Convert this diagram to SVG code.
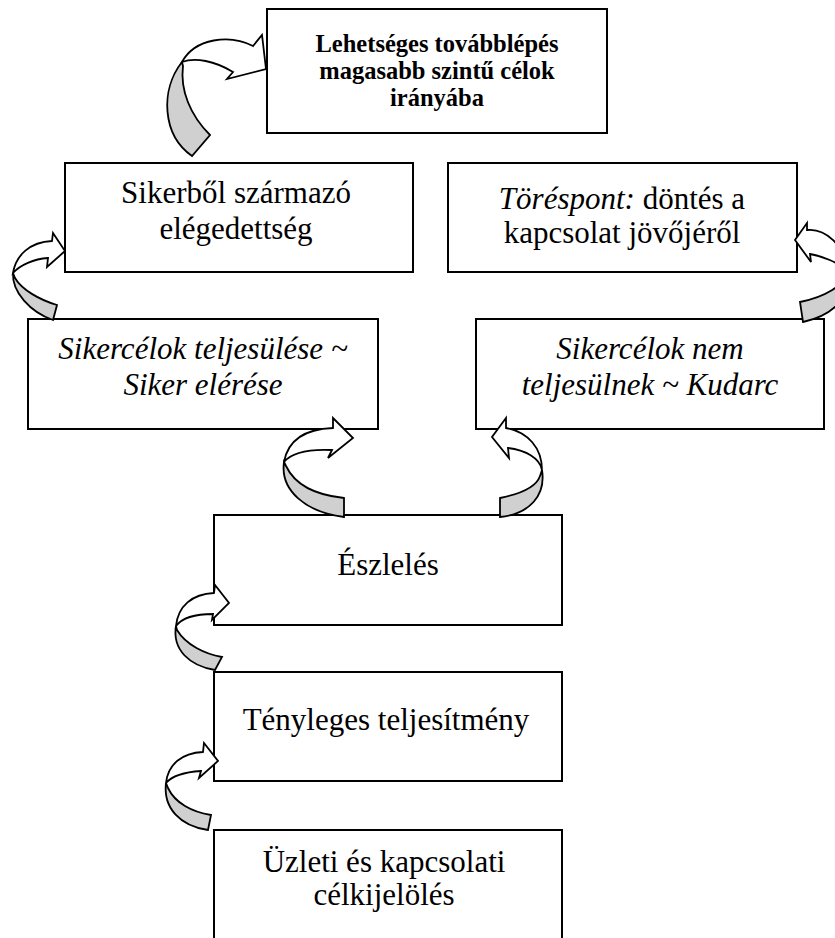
<svg xmlns="http://www.w3.org/2000/svg" width="835" height="938" viewBox="0 0 835 938">
<style>
.box{fill:#fff;stroke:#000;stroke-width:2}
.t{font-family:"Liberation Serif","Times New Roman",serif;font-size:31px;fill:#000;text-anchor:middle}
.i{font-style:italic}
.b{font-weight:bold;font-size:24.5px}
.front{fill:#fff;stroke:#000;stroke-width:1.8;stroke-linejoin:miter}
.back{fill:#d0d0d0;stroke:#000;stroke-width:1.8;stroke-linejoin:miter}
</style>
<rect width="835" height="938" fill="#fff"/>
<g id="n-top">
<rect class="box" x="267" y="9" width="340" height="124"/>
<text class="t b" x="437" y="52">Lehetséges továbblépés</text>
<text class="t b" x="437" y="79">magasabb szintű célok</text>
<text class="t b" x="437" y="106">irányába</text>
</g>
<g id="n-elegedettseg">
<rect class="box" x="65" y="163" width="348" height="109"/>
<text class="t" x="236" y="203">Sikerből származó</text>
<text class="t" x="236" y="239">elégedettség</text>
</g>
<g id="n-torespont">
<rect class="box" x="448" y="163" width="349" height="109"/>
<text class="t" x="622" y="209"><tspan class="i">Töréspont:</tspan> döntés a</text>
<text class="t" x="622" y="243">kapcsolat jövőjéről</text>
</g>
<g id="n-siker">
<rect class="box" x="28" y="319" width="350" height="110"/>
<text class="t i" x="203" y="359">Sikercélok teljesülése ~</text>
<text class="t i" x="203" y="395">Siker elérése</text>
</g>
<g id="n-kudarc">
<rect class="box" x="476" y="319" width="348" height="110"/>
<text class="t i" x="650" y="359">Sikercélok nem</text>
<text class="t i" x="650" y="395">teljesülnek ~ Kudarc</text>
</g>
<g id="n-eszleles">
<rect class="box" x="214" y="515" width="348" height="110"/>
<text class="t" x="388" y="575">Észlelés</text>
</g>
<g id="n-teljesitmeny">
<rect class="box" x="214" y="672" width="348" height="109"/>
<text class="t" x="386" y="730">Tényleges teljesítmény</text>
</g>
<g id="n-celkijeloles">
<rect class="box" x="214" y="830" width="348" height="130"/>
<text class="t" x="384" y="872">Üzleti és kapcsolati</text>
<text class="t" x="384" y="905">célkijelölés</text>
</g>
<g id="connectors">
<path class="back" d="M182,62 C160,90 162,135 192,156 L210,135 C190,115 180,90 183,66 Z"/>
<path class="front" d="M182,62 C195,38 230,34 253,46 L262,35 L266,69 L227,79 L233,72 C215,61 195,57 182,62 Z"/>
<path class="back" d="M13,273 C12,292 30,312 53,320 L57,305 C40,300 22,290 15,278 Z"/>
<path class="front" d="M13,273 C16,255 30,242 52,241 L53,233 L65,251 L47,267 L48,258 C34,259 20,265 13,273 Z"/>
<path class="back" d="M848,272 C852,295 835,315 803,322 L800,302 C825,297 845,285 848,272 Z"/>
<path class="front" d="M807,230 C825,228 845,245 848,272 C838,262 822,256 810,254 L811,262 L795,240 L807,223 Z"/>
<path class="back" d="M284,462 C280,490 305,512 344,517 L344,498 C315,495 295,485 286,466 Z"/>
<path class="front" d="M284,462 C288,440 305,429 333,428 L333,418 L353,438 L328,458 L332,450 C310,449 292,452 284,462 Z"/>
<path class="back" d="M542,470 C546,495 530,514 500,517 L500,498 C520,494 536,488 540,476 Z"/>
<path class="front" d="M542,470 C542,448 528,432 506,428 L506,418 L492,437 L509,458 L508,448 C525,450 540,458 542,470 Z"/>
<path class="back" d="M176,626 C172,650 190,666 215,670 L222,657 C205,654 186,645 177,630 Z"/>
<path class="front" d="M176,626 C178,606 192,594 214,593 L215,585 L229,603 L212,620 L213,614 C195,614 182,618 176,626 Z"/>
<path class="back" d="M166,783 C163,808 180,826 208,830 L211,815 C192,812 175,803 168,788 Z"/>
<path class="front" d="M166,783 C168,764 182,753 203,752 L204,743 L218,761 L199,778 L201,771 C185,772 172,776 166,783 Z"/>
</g>
</svg>
